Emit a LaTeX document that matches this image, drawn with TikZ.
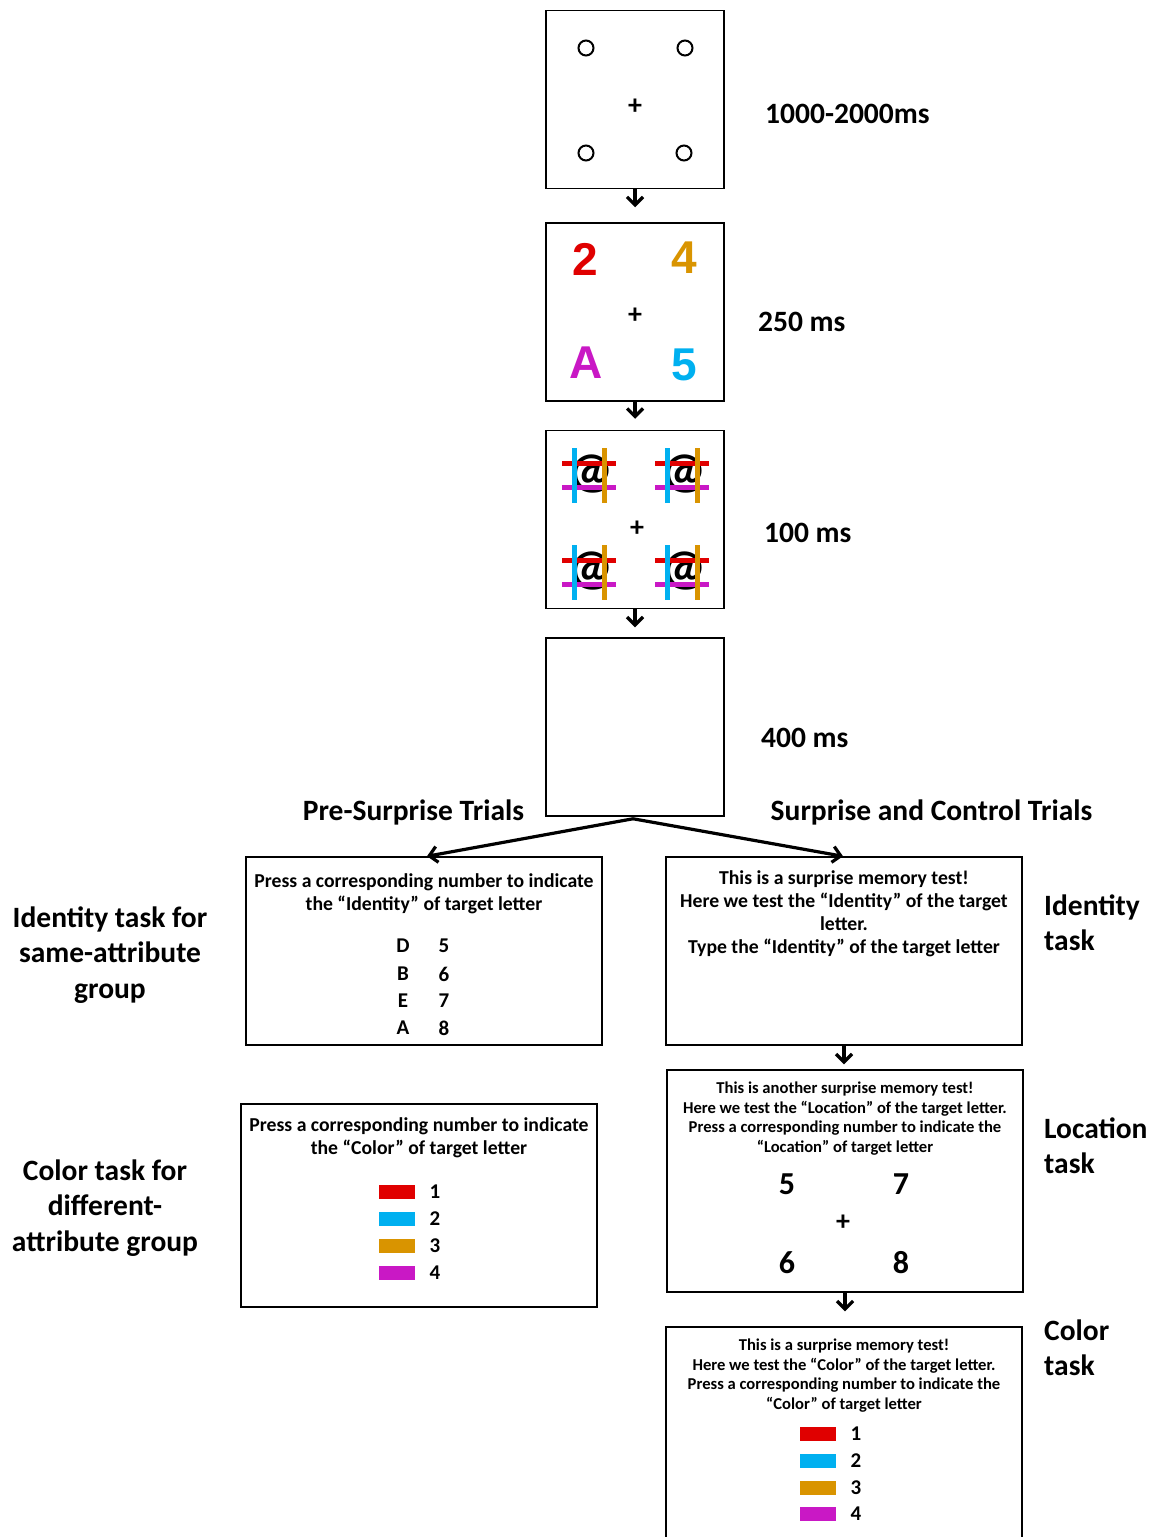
\documentclass[tikz,border=0pt]{standalone}
\usepackage{fontspec}
\setmainfont{Carlito}
\newfontfamily\arialfont{Liberation Sans}
\usetikzlibrary{arrows.meta,calc}
\definecolor{cRed}{HTML}{E00000}
\definecolor{cCyan}{HTML}{00B0F0}
\definecolor{cOrange}{HTML}{D99400}
\definecolor{cMag}{HTML}{C918C5}
\tikzset{
  frame/.style={draw, line width=1.5pt, minimum width=178pt, minimum height=178pt, inner sep=0},
  panel/.style={draw, line width=1.5pt, minimum width=356pt, inner sep=0},
  arr/.style={line width=3.2pt, -{Straight Barb[length=8pt,width=16pt]}},
  biglabel/.style={font=\bfseries\fontsize{29.5}{35.4}\selectfont, inner sep=0},
  boxtext/.style={font=\bfseries\fontsize{19.7}{23}\selectfont, align=center, inner sep=0},
  smalltext/.style={font=\bfseries\fontsize{16.6}{19.8}\selectfont, align=center, inner sep=0},
  dot/.style={circle, draw, line width=2pt, minimum size=15pt, inner sep=0},
  plussign/.style={font=\bfseries\fontsize{28}{28}\selectfont, inner sep=0},
  bigchar/.style={font=\arialfont\bfseries\fontsize{46}{46}\selectfont, inner sep=0},
  atchar/.style={font=\bfseries\fontsize{50}{50}\selectfont, inner sep=0},
  bar/.style={minimum width=36pt, minimum height=14pt, inner sep=0},
  numtext/.style={font=\bfseries\fontsize{21}{23}\selectfont, inner sep=0},
  locnum/.style={font=\bfseries\fontsize{32}{32}\selectfont, inner sep=0},
}
\newcommand\atglyph[3]{%
  \node[atchar] (#1) at (#2,#3) {@};
  \draw[line width=5pt,cRed] ($(#1)+(-29,-11)$) -- ($(#1)+(25,-11)$);
  \draw[line width=5pt,cMag] ($(#1)+(-29,13)$) -- ($(#1)+(25,13)$);
  \draw[line width=5pt,cCyan] ($(#1)+(-17,-26)$) -- ($(#1)+(-17,29)$);
  \draw[line width=5pt,cOrange] ($(#1)+(13,-26)$) -- ($(#1)+(13,29)$);
}
\begin{document}
\begin{tikzpicture}[x=1pt,y=-1pt]
\fill[white] (0,0) rectangle (1156,1537);
\useasboundingbox (0,0) rectangle (1156,1537);

% ---- sequence of frames
\node[frame] (f1) at (635,99.5) {};
\node[dot] (c1) at (586,48) {};
\node[dot] (c2) at (685,48) {};
\node[dot] (c3) at (586,153) {};
\node[dot] (c4) at (684,153) {};
\node[plussign] (p1) at (635,107) {+};
\node[biglabel, anchor=west] (t1) at (765,114) {1000-2000ms};

\node[frame] (f2) at (635,312) {};
\node[bigchar, text=cRed] (l2) at (585,259) {2};
\node[bigchar, text=cOrange] (l4) at (684,258) {4};
\node[bigchar, text=cMag] (lA) at (586,363) {A};
\node[bigchar, text=cCyan] (l5) at (684,365) {5};
\node[plussign] (p2) at (635,316) {+};
\node[biglabel, anchor=west] (t2) at (758,322) {250 ms};

\node[frame] (f3) at (635,519.5) {};
\atglyph{a1}{591}{474}
\atglyph{a2}{684}{474}
\atglyph{a3}{591}{571}
\atglyph{a4}{684}{571}
\node[plussign] (p3) at (637,529) {+};
\node[biglabel, anchor=west] (t3) at (764,533) {100 ms};

\node[frame] (f4) at (635,727) {};
\node[biglabel, anchor=west] (t4) at (761,738) {400 ms};

\draw[arr, shorten >=15pt] (f1.south) -- (f2.north);
\draw[arr, shorten >=11pt] (f2.south) -- (f3.north);
\draw[arr, shorten >=10pt] (f3.south) -- (f4.north);

% ---- branch titles
\node[biglabel] (pre) at (413.5,812) {Pre-Surprise Trials};
\node[biglabel] (sur) at (931.5,812) {Surprise and Control Trials};

% ---- left column
\node[panel, minimum height=188pt] (bA) at (424,951) {};
\node[boxtext] (bAt) at (424,893.5) {Press a corresponding number to indicate\\the “Identity” of target letter};
\node[numtext] (kD) at (403,946) {D}; \node[numtext] (n5) at (444,946) {5};
\node[numtext] (kB) at (403,974) {B}; \node[numtext] (n6) at (444,974) {6};
\node[numtext] (kE) at (403,1001) {E}; \node[numtext] (n7) at (444,1001) {7};
\node[numtext] (kA) at (403,1028) {A}; \node[numtext] (n8) at (444,1028) {8};
\node[biglabel, align=center] (idl) at (110,955) {Identity task for\\same-attribute\\group};

\node[panel, minimum height=203pt] (bE) at (419,1205.5) {};
\node[boxtext] (bEt) at (419,1137.5) {Press a corresponding number to indicate\\the “Color” of target letter};
\node[bar, fill=cRed] (e1) at (397,1192) {}; \node[numtext] (en1) at (435,1192) {1};
\node[bar, fill=cCyan] (e2) at (397,1219) {}; \node[numtext] (en2) at (435,1219) {2};
\node[bar, fill=cOrange] (e3) at (397,1246) {}; \node[numtext] (en3) at (435,1246) {3};
\node[bar, fill=cMag] (e4) at (397,1273) {}; \node[numtext] (en4) at (435,1273) {4};
\node[biglabel, align=center] (coll) at (105,1208) {Color task for\\different-\\attribute group};

% ---- right column
\node[panel, minimum height=188pt] (bB) at (844,951) {};
\node[boxtext] (bBt) at (844,914) {This is a surprise memory test!\\Here we test the “Identity” of the target\\letter.\\Type the “Identity” of the target letter};
\node[biglabel, align=left, anchor=west] (idr) at (1044,922.5) {Identity\\task};

\node[panel, minimum height=222pt] (bC) at (845,1181) {};
\node[smalltext] (bCt) at (845,1118.5) {This is another surprise memory test!\\Here we test the “Location” of the target letter.\\Press a corresponding number to indicate the\\“Location” of target letter};
\node[locnum] (q5) at (787,1184) {5};
\node[locnum] (q7) at (901,1184) {7};
\node[plussign] (p4) at (843,1223) {+};
\node[locnum] (q6) at (787,1263) {6};
\node[locnum] (q8) at (901,1263) {8};
\node[biglabel, align=left, anchor=west] (locr) at (1044,1145.5) {Location\\task};

\node[panel, minimum height=220pt] (bD) at (844,1437) {};
\node[smalltext] (bDt) at (844,1375.5) {This is a surprise memory test!\\Here we test the “Color” of the target letter.\\Press a corresponding number to indicate the\\“Color” of target letter};
\node[bar, fill=cRed] (d1) at (817.5,1434) {}; \node[numtext] (dn1) at (856,1434) {1};
\node[bar, fill=cCyan] (d2) at (817.5,1461) {}; \node[numtext] (dn2) at (856,1461) {2};
\node[bar, fill=cOrange] (d3) at (817.5,1488) {}; \node[numtext] (dn3) at (856,1488) {3};
\node[bar, fill=cMag] (d4) at (817.5,1514) {}; \node[numtext] (dn4) at (856,1514) {4};
\node[biglabel, align=left, anchor=west] (colr) at (1044,1348) {Color\\task};

% ---- connectors
\draw[arr] ($(f4.south)+(-2,2)$) -- ($(bA.north)+(3,0)$);
\draw[arr] ($(f4.south)+(-2,2)$) -- ($(bB.north)+(-1,0)$);
\draw[arr, shorten >=5pt] (bB.south) -- (bB.south |- bC.north);
\draw[arr, shorten >=15pt] (bC.south) -- (bC.south |- bD.north);
\end{tikzpicture}
\end{document}
